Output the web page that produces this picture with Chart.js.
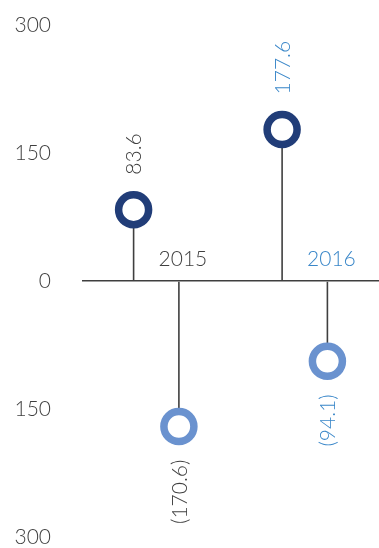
<!DOCTYPE html>
<html>
<head>
  <title>Lollipop 2015-2016</title>
  <script src="https://cdn.jsdelivr.net/npm/chart.js"></script>
  <style>
    body { margin: 0; background: #fff; }
    canvas { display: block; }
  </style>
</head>
<body>
  <canvas id="graphique" width="379" height="548"></canvas>

  <script>
    // Données
    const categories = ["2015", "2016"];
    const valeursHaut = [83.6, 177.6];
    const valeursBas = [-170.6, -94.1];
    const ticksY = [-300, -150, 0, 150, 300];

    const GRIS = "#3f3f3f";
    const BLEU = "#3a87c9";
    const FONT = "Lato, 'DejaVu Sans', sans-serif";

    // couleurs des anneaux, des libellés de valeur et des années
    const couleursAnneaux = ["#213d78", "#6a92cf"];
    const couleursLabels = [GRIS, BLEU];

    const fmt = v => v < 0 ? "(" + Math.abs(v).toFixed(1) + ")" : v.toFixed(1);

    // anneaux + étiquettes dessinés sur les positions des barres
    const anneaux = {
      id: "anneaux",
      afterDatasetsDraw(chart) {
        const ctx = chart.ctx;
        const zero = chart.scales.y.getPixelForValue(0);
        chart.data.datasets.forEach((ds, di) => {
          const meta = chart.getDatasetMeta(di);
          meta.data.forEach((bar, i) => {
            const r = 15;
            ctx.save();
            ctx.beginPath();
            ctx.arc(bar.x, bar.y, r, 0, Math.PI * 2);
            ctx.fillStyle = "#fff";
            ctx.fill();
            ctx.lineWidth = 7.5;
            ctx.strokeStyle = couleursAnneaux[di];
            ctx.stroke();

            // valeur, texte vertical
            const v = ds.data[i];
            ctx.font = "300 21px " + FONT;
            ctx.fillStyle = couleursLabels[i];
            ctx.textBaseline = "middle";
            ctx.translate(bar.x + 1, v >= 0 ? bar.y - r - 20 : bar.y + r + 18);
            ctx.rotate(-Math.PI / 2);
            ctx.textAlign = v >= 0 ? "left" : "right";
            ctx.fillText(fmt(v), 0, 0);
            ctx.restore();

            // année au-dessus de l'axe, sur la tige du bas
            if (di === 1) {
              ctx.save();
              ctx.font = "300 21px " + FONT;
              ctx.fillStyle = couleursLabels[i];
              ctx.textAlign = "center";
              ctx.textBaseline = "middle";
              ctx.fillText(categories[i], bar.x + 4, zero - 22);
              ctx.restore();
            }
          });
        });
      }
    };

    new Chart(document.getElementById("graphique"), {
      type: "bar",
      data: {
        labels: categories,
        datasets: [
          { data: valeursHaut, backgroundColor: GRIS, maxBarThickness: 1.6 },
          { data: valeursBas, backgroundColor: GRIS, maxBarThickness: 1.6 }
        ]
      },
      options: {
        responsive: false,
        animation: false,
        categoryPercentage: 0.61,
        layout: { padding: { left: 12, right: -4, top: 25, bottom: 11 } },
        plugins: { legend: { display: false }, tooltip: { enabled: false } },
        scales: {
          x: { display: false },
          y: {
            min: -300,
            max: 300,
            afterBuildTicks: s => { s.ticks = ticksY.map(v => ({ value: v })); },
            afterFit: s => { s.width = 70; s.paddingTop = 0; s.paddingBottom = 0; },
            border: { display: false },
            grid: {
              drawTicks: false,
              lineWidth: 1.6,
              color: c => c.tick && c.tick.value === 0 ? GRIS : "transparent"
            },
            ticks: {
              padding: 31,
              color: GRIS,
              font: { family: FONT, size: 21, weight: 300 },
              callback: v => Math.abs(v)
            }
          }
        }
      },
      plugins: [anneaux]
    });
  </script>
</body>
</html>
